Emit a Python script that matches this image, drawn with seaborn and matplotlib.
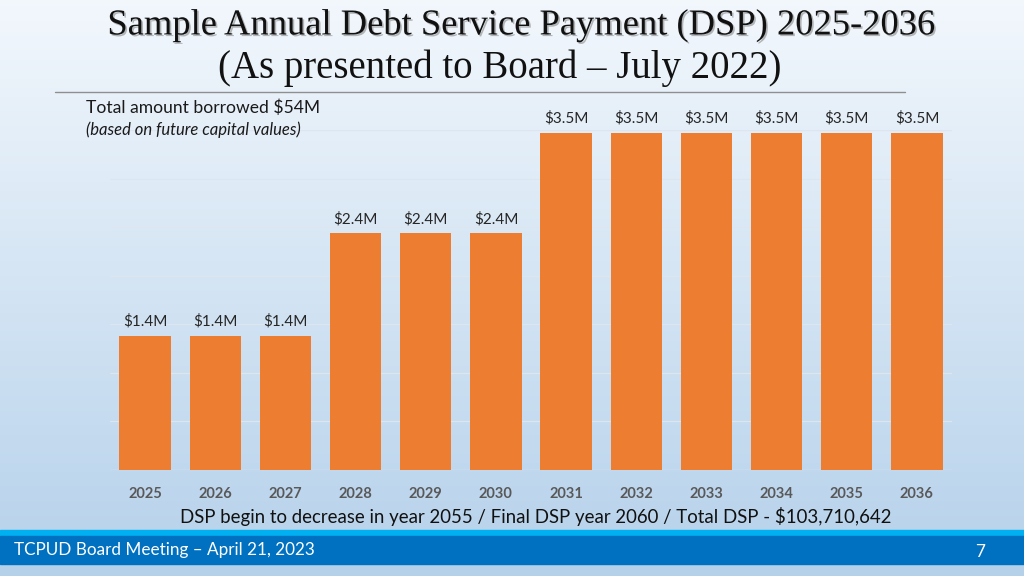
import numpy as np
import matplotlib
matplotlib.use("Agg")
import matplotlib.pyplot as plt
import matplotlib.patheffects as pe
from matplotlib.patches import Rectangle
from matplotlib.lines import Line2D
import seaborn as sns

# data
years = ['2025', '2026', '2027', '2028', '2029', '2030',
         '2031', '2032', '2033', '2034', '2035', '2036']
dsp_millions = [1.38, 1.38, 1.38, 2.44, 2.44, 2.44,
                3.47, 3.47, 3.47, 3.47, 3.47, 3.47]
value_labels = ['$1.4M', '$1.4M', '$1.4M', '$2.4M', '$2.4M', '$2.4M',
                '$3.5M', '$3.5M', '$3.5M', '$3.5M', '$3.5M', '$3.5M']

sns.set_theme(style='white')
plt.rcParams['font.family'] = ['Lato', 'DejaVu Sans']

fig = plt.figure(figsize=(10.24, 5.76), dpi=100)

# slide background gradient
bg = fig.add_axes([0, 0, 1, 1], zorder=-5)
top = np.array([0.95, 0.97, 0.99])
bot = np.array([0.71, 0.82, 0.92])
t = np.linspace(0, 1, 256)[:, None, None]
grad = top * (1 - t) + bot * t
grad = np.repeat(grad, 4, axis=1)
bg.imshow(grad, aspect='auto', extent=[0, 1, 0, 1])
bg.set_axis_off()

# footer band
fig.add_artist(Rectangle((0, 1 - 536 / 576), 1, 6 / 576, transform=fig.transFigure,
                         color='#00b0f0', zorder=1))
fig.add_artist(Rectangle((0, 1 - 564 / 576), 1, 28 / 576, transform=fig.transFigure,
                         color='#0070c0', zorder=1))
fig.text(14 / 1024, 1 - 550 / 576, 'TCPUD Board Meeting \u2013 April 21, 2023',
         color='white', fontsize=12.3, va='center', ha='left', zorder=2)
fig.text(980 / 1024, 1 - 552 / 576, '7', color='white', fontsize=12.3,
         va='center', ha='center', zorder=2)

# titles
fig.text(521 / 1024, 1 - 25 / 576, 'Sample Annual Debt Service Payment (DSP) 2025-2036',
         family='Liberation Serif', fontsize=26.3, ha='center', va='center', color='#111111',
         path_effects=[pe.withSimplePatchShadow(offset=(1.2, -1.2), shadow_rgbFace='#777777', alpha=0.5)])
fig.text(500 / 1024, 1 - 68 / 576, '(As presented to Board \u2013 July 2022)',
         family='Liberation Serif', fontsize=28, ha='center', va='center', color='#111111')
fig.add_artist(Line2D([55 / 1024, 905 / 1024], [1 - 92 / 576, 1 - 92 / 576],
                      transform=fig.transFigure, color='#8f8f8f', lw=1))

fig.text(86 / 1024, 1 - 108 / 576, 'Total amount borrowed $54M',
         fontsize=12.6, ha='left', va='center', color='#1a1a1a')
fig.text(86 / 1024, 1 - 130 / 576, '(based on future capital values)',
         fontsize=12, style='italic', ha='left', va='center', color='#1a1a1a')

# chart
ax = fig.add_axes([110 / 1024, 1 - 470 / 576, 842 / 1024, 340 / 576])
ax.set_facecolor('none')
sns.barplot(x=years, y=dsp_millions, color='#ed7d31', saturation=1, width=0.73,
            linewidth=0, ax=ax, zorder=3)
ax.bar_label(ax.containers[0], labels=value_labels, padding=5, fontsize=11, color='#262626')

ax.set_ylim(0, 3.5)
ax.set_xlim(-0.5, 11.5)
ax.set_yticks(np.arange(0, 3.51, 0.5))
ax.yaxis.grid(True, color='#dde6ef', lw=0.9)
ax.set_axisbelow(True)
ax.tick_params(axis='y', left=False, labelleft=False)
ax.tick_params(axis='x', bottom=False, pad=11, labelsize=10.5, labelcolor='#595959')
for lbl in ax.get_xticklabels():
    lbl.set_fontweight('bold')
    lbl.set_verticalalignment('center')
for s in ax.spines.values():
    s.set_visible(False)
ax.axhline(0, color='#d9e2ec', lw=0.9, zorder=2)
ax.set_xlabel('')
ax.set_ylabel('')

fig.text(536 / 1024, 1 - 517 / 576,
         'DSP begin to decrease in year 2055 / Final DSP year 2060 / Total DSP - $103,710,642',
         fontsize=13.45, ha='center', va='center', color='#111111')

fig.savefig('out.png', dpi=100)
